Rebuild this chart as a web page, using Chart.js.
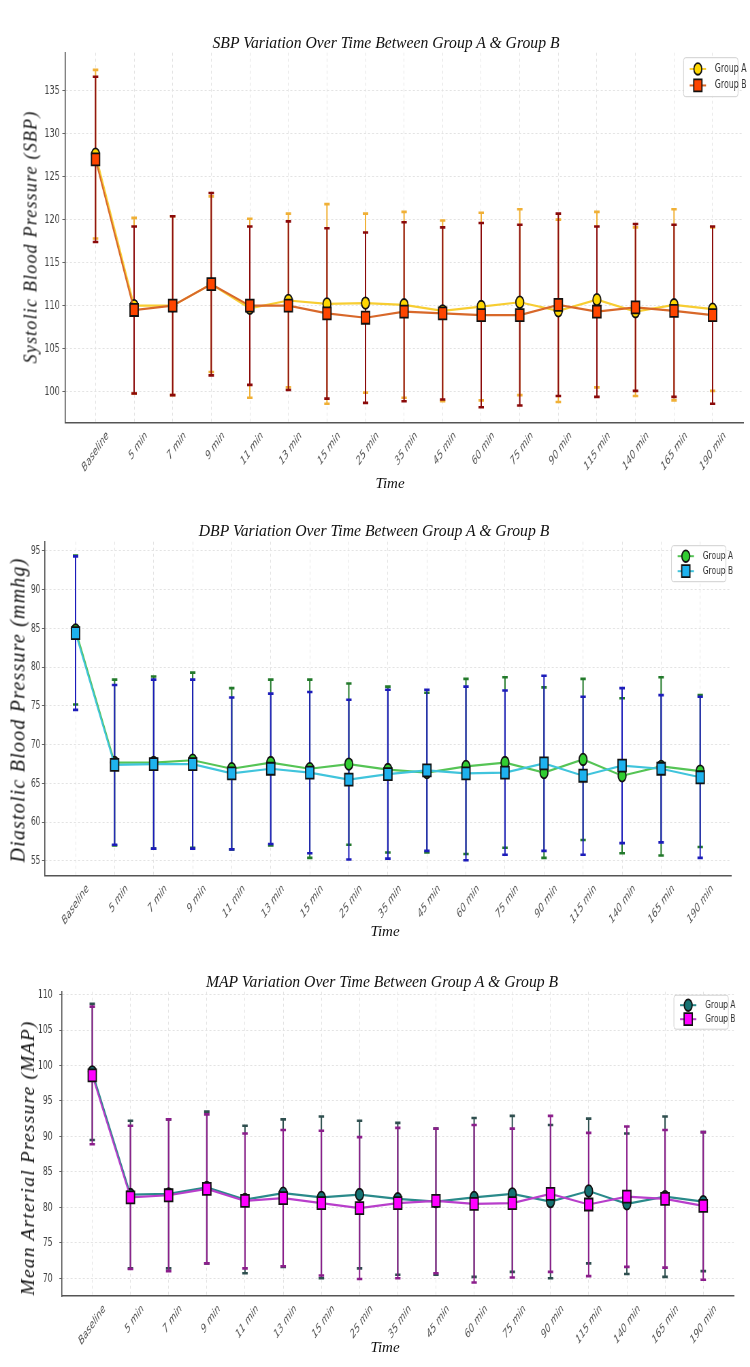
<!DOCTYPE html>
<html>
<head>
<meta charset="utf-8">
<script src="https://cdn.jsdelivr.net/npm/chart.js@4.4.0/dist/chart.umd.min.js"></script>
<style>
    body { margin: 0; background: #fff; width: 750px; height: 1367px; overflow: hidden; position: relative; }
    .panel { position: absolute; left: 0; width: 750px; }
    .squeeze { position: absolute; left: 0; top: 0; height: 100%; transform-origin: 0 0; }
    .lbl { position: absolute; font-family: 'Liberation Serif', 'Times New Roman', serif; font-style: italic; color: #111; white-space: nowrap; transform: translate(-50%, -50%); }
    .ylbl { transform: translate(-50%, -50%) rotate(-90deg); letter-spacing: 1.2px; }
</style>
</head>
<body>
<div class="panel" id="p1" style="top:0;height:495px">
    <div class="squeeze"><canvas id="sbpChart"></canvas></div>
    <div class="lbl" style="left:386px;top:43px;font-size:15.7px">SBP Variation Over Time Between Group A &amp; Group B</div>
    <div class="lbl ylbl" style="left:31px;top:237px;font-size:18px">Systolic Blood Pressure (SBP)</div>
    <div class="lbl" style="left:390px;top:483px;font-size:15px">Time</div>
</div>
<div class="panel" id="p2" style="top:495px;height:455px">
    <div class="squeeze"><canvas id="dbpChart"></canvas></div>
    <div class="lbl" style="left:374px;top:36px;font-size:15.7px">DBP Variation Over Time Between Group A &amp; Group B</div>
    <div class="lbl ylbl" style="left:18px;top:215px;font-size:20px">Diastolic Blood Pressure (mmhg)</div>
    <div class="lbl" style="left:385px;top:436px;font-size:15px">Time</div>
</div>
<div class="panel" id="p3" style="top:950px;height:417px">
    <div class="squeeze"><canvas id="mapChart"></canvas></div>
    <div class="lbl" style="left:382px;top:32px;font-size:15.7px">MAP Variation Over Time Between Group A &amp; Group B</div>
    <div class="lbl ylbl" style="left:28px;top:208px;font-size:19.5px">Mean Arterial Pressure (MAP)</div>
    <div class="lbl" style="left:385px;top:397px;font-size:15px">Time</div>
</div>
<script>
// time points
const timeLabels = ['Baseline', '5 min', '7 min', '9 min', '11 min', '13 min', '15 min', '25 min', '35 min',
    '45 min', '60 min', '75 min', '90 min', '115 min', '140 min', '165 min', '190 min'];

// SBP (mean, SD)
const sbpMeanA = [127.6, 110.0, 110.0, 112.5, 109.7, 110.6, 110.2, 110.3, 110.1, 109.4, 109.9, 110.4, 109.4, 110.7, 109.3, 110.1, 109.6];
const sbpSdA = [9.8, 10.2, 10.4, 10.2, 10.4, 10.1, 11.6, 10.4, 10.8, 10.5, 10.9, 10.8, 10.6, 10.2, 9.8, 11.1, 9.5];
const sbpMeanB = [127.0, 109.5, 110.0, 112.5, 110.0, 110.0, 109.1, 108.6, 109.3, 109.1, 108.9, 108.9, 110.1, 109.3, 109.8, 109.4, 108.9];
const sbpSdB = [9.6, 9.7, 10.4, 10.6, 9.2, 9.8, 9.9, 9.9, 10.4, 10.0, 10.7, 10.5, 10.6, 9.9, 9.7, 10.0, 10.3];

// DBP (mean, SD)
const dbpMeanA = [84.8, 67.7, 67.7, 68.0, 66.9, 67.7, 66.9, 67.5, 66.8, 66.4, 67.2, 67.7, 66.4, 68.1, 66.0, 67.2, 66.6];
const dbpSdA = [9.6, 10.7, 11.1, 11.3, 10.4, 10.7, 11.5, 10.4, 10.7, 10.3, 11.3, 11.0, 11.0, 10.4, 10.0, 11.5, 9.8];
const dbpMeanB = [84.4, 67.4, 67.5, 67.5, 66.3, 66.9, 66.4, 65.5, 66.2, 66.7, 66.3, 66.4, 67.6, 66.0, 67.3, 66.9, 65.8];
const dbpSdB = [9.9, 10.3, 10.9, 10.9, 9.8, 9.7, 10.4, 10.3, 10.9, 10.4, 11.2, 10.6, 11.3, 10.2, 10.0, 9.5, 10.4];

// MAP (mean, SD)
const mapMeanA = [99.1, 81.8, 81.9, 82.8, 81.1, 82.0, 81.4, 81.8, 81.2, 80.8, 81.4, 81.9, 80.8, 82.3, 80.5, 81.5, 80.8];
const mapSdA = [9.6, 10.4, 10.5, 10.7, 10.4, 10.4, 11.4, 10.4, 10.7, 10.3, 11.2, 11.0, 10.8, 10.2, 9.9, 11.3, 9.8];
const mapMeanB = [98.6, 81.4, 81.7, 82.6, 80.9, 81.3, 80.6, 79.9, 80.6, 80.9, 80.5, 80.6, 81.9, 80.4, 81.5, 81.2, 80.2];
const mapSdB = [9.7, 10.1, 10.7, 10.5, 9.5, 9.6, 10.2, 10.0, 10.6, 10.2, 11.1, 10.5, 11.0, 10.1, 9.9, 9.7, 10.4];

const SQ = 0.68;              // horizontal squeeze of the plot body
const INNER_W = 750 / SQ;
const TICK_FONT = "'Liberation Sans Narrow', 'DejaVu Sans Condensed', 'DejaVu Sans', sans-serif";

// error bars: mean +/- SD, drawn under the lines
const errorBars = {
    id: 'errorBars',
    beforeDatasetsDraw(chart, args, opts) {
        const { ctx, scales: { x, y } } = chart;
        ctx.save();
        chart.data.datasets.forEach((ds) => {
            ctx.strokeStyle = ds.errorColor;
            ds.data.forEach((pt, j) => {
                const px = x.getPixelForValue(pt.x);
                const top = y.getPixelForValue(pt.y + ds.sd[j]);
                const bot = y.getPixelForValue(pt.y - ds.sd[j]);
                ctx.lineWidth = opts.width;
                ctx.beginPath();
                ctx.moveTo(px, top);
                ctx.lineTo(px, bot);
                ctx.stroke();
                ctx.lineWidth = opts.capWidth;
                ctx.beginPath();
                ctx.moveTo(px - opts.cap, top);
                ctx.lineTo(px + opts.cap, top);
                ctx.moveTo(px - opts.cap, bot);
                ctx.lineTo(px + opts.cap, bot);
                ctx.stroke();
            });
        });
        ctx.restore();
    }
};

// legend box inside the top right corner of the plot
const legendBox = {
    id: 'legendBox',
    afterDraw(chart, args, opts) {
        const { ctx, chartArea } = chart;
        const bx = chartArea.right - opts.right - opts.width;
        const by = chartArea.top + opts.top;
        const bh = opts.rowH * chart.data.datasets.length + opts.pad * 2;
        ctx.save();
        ctx.fillStyle = 'rgba(255,255,255,0.9)';
        ctx.strokeStyle = '#cfcfcf';
        ctx.lineWidth = 1;
        ctx.beginPath();
        ctx.roundRect(bx, by, opts.width, bh, 3);
        ctx.fill();
        ctx.stroke();
        chart.data.datasets.forEach((ds, i) => {
            const cy = by + opts.pad + opts.rowH * (i + 0.5);
            const mx = bx + 21;
            ctx.strokeStyle = ds.borderColor;
            ctx.lineWidth = 2;
            ctx.beginPath();
            ctx.moveTo(mx - 12, cy);
            ctx.lineTo(mx + 12, cy);
            ctx.stroke();
            ctx.fillStyle = ds.pointBackgroundColor;
            ctx.strokeStyle = ds.pointBorderColor;
            ctx.lineWidth = ds.pointBorderWidth;
            Chart.helpers.drawPoint(ctx, {
                pointStyle: ds.pointStyle,
                radius: ds.pointRadius,
                borderWidth: ds.pointBorderWidth,
                rotation: 0
            }, mx, cy);
            ctx.fillStyle = '#333';
            ctx.font = opts.fontSize + 'px "DejaVu Sans", sans-serif';
            ctx.textBaseline = 'middle';
            ctx.fillText(ds.label, bx + 46, cy);
        });
        ctx.restore();
    }
};

function makeSeries(label, means, sds, style, order) {
    return {
        label: label,
        order: order,
        data: means.map((v, i) => ({ x: i, y: v })),
        sd: sds,
        borderColor: style.line,
        borderWidth: 2.2,
        errorColor: style.err,
        pointStyle: style.shape,
        pointRadius: style.shape === 'rect' ? 8.5 : 5.8,
        pointHoverRadius: style.shape === 'rect' ? 8.5 : 5.8,
        pointBackgroundColor: style.fill,
        pointBorderColor: '#111',
        pointBorderWidth: 1.8,
        tension: 0
    };
}

function makeChart(id, datasets, p) {
    new Chart(document.getElementById(id), {
        type: 'line',
        data: { datasets: datasets },
        plugins: [errorBars, legendBox],
        options: {
            responsive: true,
            maintainAspectRatio: false,
            animation: false,
            layout: { padding: { top: p.top, right: p.right, bottom: 0, left: 0 } },
            plugins: {
                legend: { display: false },
                title: { display: false },
                tooltip: { enabled: false },
                errorBars: { width: 2, capWidth: 2.6, cap: 4 },
                legendBox: { right: 8, top: p.legTop, width: 80, rowH: p.rowH, pad: 3, fontSize: p.legFont }
            },
            scales: {
                x: {
                    type: 'linear',
                    min: -0.79,
                    max: 16.8,
                    afterBuildTicks: (s) => { s.ticks = timeLabels.map((_, i) => ({ value: i })); },
                    afterFit: (s) => { s.height = p.xh; },
                    grid: { color: '#e3e3e3', drawTicks: false },
                    border: { color: '#555', width: 1.6, dash: [3, 3] },
                    ticks: {
                        autoSkip: false,
                        maxRotation: 45,
                        minRotation: 45,
                        padding: 6,
                        labelOffset: 18,
                        color: '#555',
                        font: { family: 'DejaVu Sans', size: 12, style: 'italic' },
                        callback: (v) => timeLabels[v]
                    }
                },
                y: {
                    min: p.yMin,
                    max: p.yMax,
                    afterFit: (s) => { s.width = p.yw; },
                    grid: { color: '#e3e3e3', tickLength: 4, tickColor: '#666' },
                    border: { color: '#555', width: 1.6, dash: [3, 3] },
                    ticks: {
                        stepSize: 5,
                        includeBounds: false,
                        padding: p.yPad,
                        color: '#444',
                        font: { family: TICK_FONT, size: p.yFont }
                    }
                }
            }
        }
    });
}

document.querySelectorAll('.squeeze').forEach((el) => {
    el.style.width = INNER_W + 'px';
    el.style.transform = 'scaleX(' + SQ + ')';
});

makeChart('sbpChart', [
    makeSeries('Group A', sbpMeanA, sbpSdA, { line: '#F7CD32', fill: '#FFD700', err: '#F0B036', shape: 'circle' }, 2),
    makeSeries('Group B', sbpMeanB, sbpSdB, { line: '#D8682A', fill: '#FF4500', err: '#8B0A0A', shape: 'rect' }, 1)
], { top: 52.7, right: 10.6, xh: 72.3, yw: 95.6, yMin: 96.4, yMax: 139.4, yPad: 4, yFont: 13, legTop: 5, rowH: 16.5, legFont: 11.5 });

makeChart('dbpChart', [
    makeSeries('Group A', dbpMeanA, dbpSdA, { line: '#55C455', fill: '#32CD32', err: '#237A2B', shape: 'circle' }, 2),
    makeSeries('Group B', dbpMeanB, dbpSdB, { line: '#40C4DC', fill: '#1EB2EE', err: '#1C1CBA', shape: 'rect' }, 1)
], { top: 46.7, right: 28.3, xh: 74.3, yw: 65.7, yMin: 53.1, yMax: 96.2, yPad: 2.5, yFont: 12, legTop: 4, rowH: 15, legFont: 11 });

makeChart('mapChart', [
    makeSeries('Group A', mapMeanA, mapSdA, { line: '#2A8A8A', fill: '#167272', err: '#2F4F4F', shape: 'circle' }, 2),
    makeSeries('Group B', mapMeanB, mapSdB, { line: '#B83ECB', fill: '#FF00FF', err: '#8B1E8B', shape: 'rect' }, 1)
], { top: 41.7, right: 24.8, xh: 71, yw: 91.2, yPad: 10, yMin: 67.5, yMax: 110.4, yFont: 12.5, legTop: 3.5, rowH: 14, legFont: 11 });
</script>
</body>
</html>
